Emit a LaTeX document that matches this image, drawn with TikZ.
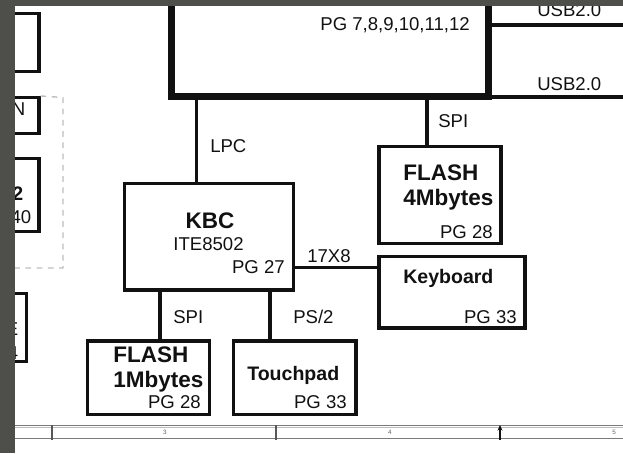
\documentclass[tikz,border=0pt]{standalone}
\usepackage{fontspec}
\setmainfont{Liberation Sans}
\usetikzlibrary{fit,arrows.meta}

\begin{document}
\begin{tikzpicture}[
    x=0.025cm, y=-0.025cm,
    box/.style={draw=ink, line width=2.2pt, inner sep=0pt},
    hubbox/.style={draw=ink, line width=5pt, inner sep=0pt},
    wire/.style={draw=ink, line width=2.2pt},
    lbl/.style={font=\fontsize{13.2}{15}\selectfont, text=ink, inner sep=0pt},
    chipname/.style={font=\fontsize{16}{18}\selectfont\bfseries, text=ink, inner sep=0pt},
    partname/.style={font=\fontsize{13.9}{16}\selectfont\bfseries, text=ink, inner sep=0pt},
    ruler/.style={draw=rule, line width=0.7pt},
    digit/.style={font=\fontsize{4.5}{5}\selectfont, text=rule!80!black, inner sep=0pt},
    bezelfill/.style={fill=bezel},
    fence/.style={draw=fencegray, line width=1pt, dash pattern=on 4pt off 4pt}
]
\definecolor{ink}{HTML}{111111}
\definecolor{rule}{HTML}{7A7A7A}
\definecolor{bezel}{HTML}{4E4E4B}
\definecolor{fencegray}{HTML}{BDBDBD}

\useasboundingbox (0,0) rectangle (623,453);

% chipset (top, cut by the frame)
\node[hubbox, fit={(171.5,2) (488.5,96.5)}] (hub) {};
\node[lbl, anchor=base east] (hubpg) at (470,31) {PG 7,8,9,10,11,12};

% USB lanes to the right edge
\coordinate (usbA) at (623,25);
\coordinate (usbB) at (623,97);
\draw[wire] (hub.east |- usbA) -- (usbA);
\draw[wire] (hub.east |- usbB) -- (usbB);
\node[lbl, anchor=base west] (usbAlbl) at (537,17) {USB2.0};
\node[lbl, anchor=base west] (usbBlbl) at (537,91) {USB2.0};

% boxes
\node[box, fit={(124.5,183.5) (293.5,290)}] (kbc) {};
\node[box, fit={(379,146.5) (501,243.5)}] (flashB) {};
\node[box, fit={(379,256.5) (525,328)}] (kbd) {};
\node[box, fit={(87.5,341) (209.5,414.5)}] (flashA) {};
\node[box, fit={(233.5,341) (356,414.5)}] (tpad) {};

% partial boxes at the left margin
\node[box, fit={(5,13.5) (39,71.5)}] (leftA) {};
\node[box, fit={(5,97.5) (39,133.5)}] (leftB) {};
\node[box, fit={(5,158.5) (39,231.5)}] (leftC) {};
\node[box, fit={(5,293.5) (26.5,361.5)}] (leftD) {};
\draw[fence] (leftB.north east) -- (63,97.5) -- (63,268) -- (5,268);

\node[lbl, anchor=base east] (leftBtxt) at (25.5,115) {N};
\node[partname, anchor=base east] (leftCtxt) at (23.5,200) {2};
\node[lbl, anchor=base east] (leftCpg) at (31.5,223) {40};
\node[lbl, anchor=base east] (leftDtxt) at (18.5,335) {E};
\node[lbl, anchor=base east] (leftDpg) at (18.5,359) {4};

% box texts
\node[chipname, anchor=base] (kbcname) at (210,228) {KBC};
\node[lbl, anchor=base] (kbcchip) at (208.5,250) {ITE8502};
\node[lbl, anchor=base east] (kbcpg) at (285,273) {PG 27};

\node[chipname, anchor=base west] (flashBname) at (403,180) {FLASH};
\node[chipname, anchor=base west] (flashBsize) at (403,205) {4Mbytes};
\node[lbl, anchor=base east] (flashBpg) at (493,238) {PG 28};

\node[partname, anchor=base west] (kbdname) at (403,283) {Keyboard};
\node[lbl, anchor=base east] (kbdpg) at (517,323) {PG 33};

\node[chipname, anchor=base west] (flashAname) at (113,362) {FLASH};
\node[chipname, anchor=base west] (flashAsize) at (113,387) {1Mbytes};
\node[lbl, anchor=base east] (flashApg) at (201,408) {PG 28};

\node[partname, anchor=base west] (tpadname) at (247,380) {Touchpad};
\node[lbl, anchor=base east] (tpadpg) at (347,408) {PG 33};

% buses
\draw[wire] (196.5,0 |- hub.south) -- (196.5,0 |- kbc.north);
\node[lbl, anchor=base west] (lpc) at (210,152) {LPC};
\draw[wire] (427,0 |- hub.south) -- (427,0 |- flashB.north);
\node[lbl, anchor=base west] (spiB) at (438,127) {SPI};
\coordinate (matrix) at (0,267.5);
\draw[wire] (kbc.east |- matrix) -- (kbd.west |- matrix);
\node[lbl, anchor=base west] (mtx) at (307,262) {17X8};
\draw[wire] (160,0 |- kbc.south) -- (160,0 |- flashA.north);
\node[lbl, anchor=base west] (spiA) at (173,323) {SPI};
\draw[wire] (270,0 |- kbc.south) -- (270,0 |- tpad.north);
\node[lbl, anchor=base west] (ps2) at (293,323) {PS/2};

% zone ruler
\draw[ruler] (5,425) -- (623,425);
\draw[ruler, draw=rule!50] (5,427.5) -- (623,427.5);
\draw[ruler] (5,438) -- (623,438);
\foreach \x in {52,276} {
  \draw[ruler, draw=ink!70, line width=1pt] (\x,425) -- (\x,440);
}
\draw[draw=ink, line width=1pt, -{Stealth[length=4pt,width=3.5pt]}] (500,440) -- (500,425);
\foreach \x/\lab in {165/3,390/4,614/5} {
  \node[digit] (zone\lab) at (\x,432.5) {\lab};
}

% screen frame
\fill[bezelfill] (0,0) rectangle (623,6);
\fill[bezelfill] (0,0) rectangle (15,453);
\end{tikzpicture}
\end{document}
